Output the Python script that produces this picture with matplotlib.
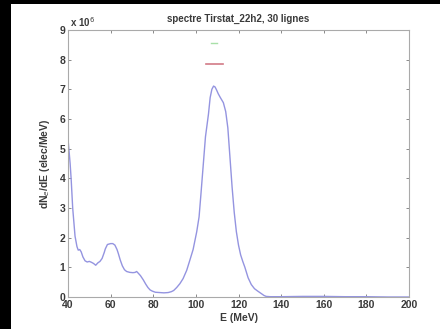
import numpy as np
import matplotlib
matplotlib.use("Agg")
import matplotlib.pyplot as plt
from matplotlib.patches import Rectangle

# spectrum (E in MeV, dN/dE in 1e6 elec/MeV)
energy = [40, 41, 41.5, 42.2, 43.3, 44.2, 44.8, 45.5, 46.2, 47, 48, 49, 50, 51, 52, 53, 54, 55,
          56, 57, 57.5, 58.5, 60, 61, 62, 63, 63.6, 64.5, 65.5, 66.5, 67.5, 69, 70.5, 71.5,
          72.2, 73, 74, 75.3, 76.5, 77.5, 78.5, 79.5, 81, 83, 85, 87, 88.5, 89.6, 91, 92.5,
          94, 95.7, 97, 98.7, 100.4, 101.5, 102.3, 103.5, 104.5, 105.9, 106.7, 107.5, 108.3,
          109, 109.7, 110.5, 111.5, 112.9, 114, 115, 116, 117, 118, 119, 120, 121, 122,
          123, 124.5, 126, 127.5, 129, 130, 131, 132, 133, 135, 140, 150, 160, 170, 180, 190, 200]
counts = [5.33, 4.5, 3.95, 3.0, 2.05, 1.7, 1.58, 1.6, 1.52, 1.35, 1.22, 1.18, 1.2, 1.17, 1.13, 1.07,
          1.15, 1.2, 1.3, 1.5, 1.62, 1.77, 1.8, 1.8, 1.75, 1.6, 1.47, 1.25, 1.05, 0.92, 0.86,
          0.83, 0.82, 0.83, 0.86, 0.8, 0.72, 0.58, 0.43, 0.32, 0.24, 0.2, 0.16, 0.15, 0.14,
          0.15, 0.18, 0.22, 0.32, 0.45, 0.62, 0.9, 1.2, 1.6, 2.2, 2.7, 3.4, 4.49, 5.4, 6.16,
          6.72, 7.0, 7.11, 7.08, 6.98, 6.85, 6.72, 6.55, 6.25, 5.7, 4.7, 3.7, 2.85, 2.2, 1.75,
          1.42, 1.2, 1.0, 0.65, 0.42, 0.28, 0.2, 0.15, 0.1, 0.05, 0.02, 0.01, 0.01, 0.02, 0.02,
          0.01, 0.01, 0.0, 0.0]

red_E = [104.8, 112.6]
red_y = [7.84, 7.84]
green_E = [107.1, 110.1]
green_y = [8.55, 8.55]

xticks = [40, 60, 80, 100, 120, 140, 160, 180, 200]
yticks = [0, 1, 2, 3, 4, 5, 6, 7, 8, 9]

plt.rcParams['font.family'] = ['Liberation Sans', 'DejaVu Sans']
txtcol = '#3a3a3a'

fig = plt.figure(figsize=(4.4, 3.29), dpi=100, facecolor='white')
# black frame on the left and top edges
fig.patches.append(Rectangle((0, 0), 11 / 440, 1, transform=fig.transFigure,
                             facecolor='black', edgecolor='none'))
fig.patches.append(Rectangle((0, 1 - 4 / 329), 1, 4 / 329, transform=fig.transFigure,
                             facecolor='black', edgecolor='none'))

ax = fig.add_axes([68 / 440, 32 / 329, 341 / 440, 267 / 329])
ax.plot(energy, counts, color='#9494e0', lw=1.0)
ax.plot(red_E, red_y, color='#d27a86', lw=1.2)
ax.plot(green_E, green_y, color='#a8e0a8', lw=1.0)

ax.set_xlim(40, 200)
ax.set_ylim(0, 9)
ax.set_xticks(xticks)
ax.set_yticks(yticks)
ax.set_xticklabels([str(t) for t in xticks])
ax.set_yticklabels([str(t) for t in yticks])
ax.tick_params(direction='in', length=2.5, width=0.6, color='#777777',
               labelsize=7.5, labelcolor=txtcol, pad=2, top=True, right=True)
for lab in ax.get_xticklabels() + ax.get_yticklabels():
    lab.set_fontweight('bold')
for s in ax.spines.values():
    s.set_color('#aaaaaa')
    s.set_linewidth(0.8)

ax.text(0.005, 1.005, r'x 10$^6$', transform=ax.transAxes, fontsize=7, color=txtcol,
        fontweight='bold', va='bottom', ha='left')
ax.set_title('spectre Tirstat_22h2, 30 lignes', fontsize=7, color=txtcol,
             fontweight='bold', pad=6)
ax.set_xlabel('E (MeV)', fontsize=7.5, color=txtcol, fontweight='bold', labelpad=2)
ax.set_ylabel(r'dN$_e$/dE (elec/MeV)', fontsize=7.5, color=txtcol, fontweight='bold',
              labelpad=5)

fig.savefig('out.png', dpi=100, facecolor=fig.get_facecolor())
